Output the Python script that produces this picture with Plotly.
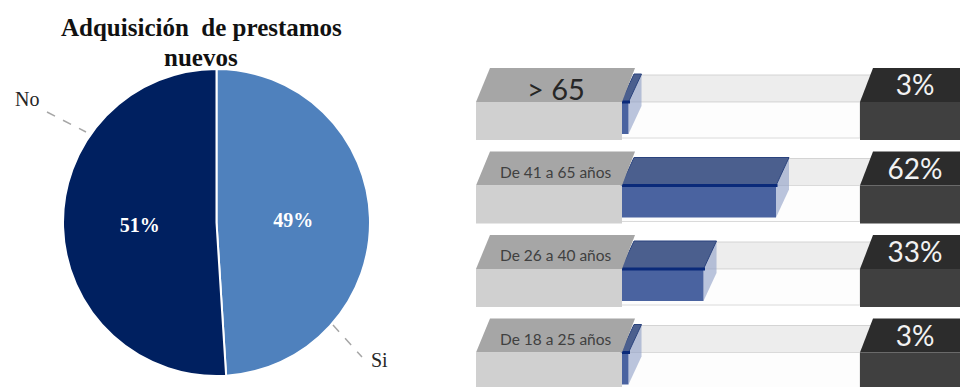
import plotly.graph_objects as go

# ---------------- data ----------------
pie_labels = ["Si", "No"]
pie_values = [49, 51]
pie_colors = ["#4F81BD", "#002060"]
pie_title_1 = "Adquisición\u00a0 de prestamos"
pie_title_2 = "nuevos"

age_groups = ["> 65", "De 41 a 65 años", "De 26 a 40 años", "De 18 a 25 años"]
age_values = [3, 62, 33, 3]

# ---------------- layout helpers ----------------
W, H = 960, 387
def px(x):  # pixel -> paper x
    return x / W
def py(y):  # pixel -> paper y
    return 1 - y / H

ORIGIN = 621.0        # pixel where 0 % starts
SCALE = 2.5           # pixels per percent
def ux(p):            # pixel -> bar axis units
    return (p - ORIGIN) / SCALE

SLANT = 13 / SCALE
ROW0, PITCH = 68.0, 83.5

fig = go.Figure()

def poly(xs, ys, color, line_color=None, lw=0, opacity=1.0):
    fig.add_trace(go.Scatter(
        x=xs + [xs[0]], y=ys + [ys[0]], mode="lines", fill="toself",
        fillcolor=color, opacity=opacity,
        line=dict(color=line_color or color, width=lw),
        hoverinfo="skip", showlegend=False, xaxis="x", yaxis="y"))

# tracks (glass tubes)
for i, _ in enumerate(age_groups):
    T = ROW0 + PITCH * i
    poly([ux(634), ux(873), ux(860), ux(621)], [T + 7, T + 7, T + 34, T + 34],
         "#EDEDED", "#D4D4D4", 1)
    poly([ux(621), ux(860), ux(860), ux(621)], [T + 34, T + 34, T + 70, T + 70],
         "#FDFDFD", "#DADADA", 1)

# value bars
for i, v in enumerate(age_values):
    T = ROW0 + PITCH * i
    # side cap
    poly([v, v, v + SLANT, v + SLANT], [T + 66, T + 34, T + 6, T + 38],
         "#8E9FC6", opacity=0.6)
    # top face
    poly([0, v, v + SLANT, SLANT], [T + 34, T + 34, T + 6, T + 6],
         "#4B5F8E", "#2A437E", 1)
    # front face
    poly([0, v, v, 0], [T + 34, T + 34, T + 66, T + 66], "#4A63A0")
    # edge line
    fig.add_trace(go.Scatter(x=[0, v + 0.6], y=[T + 34, T + 34], mode="lines",
                             line=dict(color="#0A2A7A", width=3),
                             hoverinfo="skip", showlegend=False))

# label blocks and value blocks
for i, _ in enumerate(age_groups):
    T = ROW0 + PITCH * i
    poly([ux(490), ux(635), ux(622), ux(476)], [T, T, T + 34, T + 34], "#A6A6A6")
    poly([ux(476), ux(622), ux(622), ux(476)], [T + 34, T + 34, T + 72, T + 72], "#D0D0D0")
    poly([ux(873), ux(965), ux(965), ux(860)], [T, T, T + 34, T + 34], "#2C2C2C")
    poly([ux(860), ux(965), ux(965), ux(860)], [T + 34, T + 34, T + 72, T + 72], "#404040")

# texts
label_x = ux(556)
for i, g in enumerate(age_groups):
    T = ROW0 + PITCH * i
    big = i == 0
    fig.add_annotation(x=label_x, y=T + 20, xref="x", yref="y", text=g,
                       showarrow=False, xanchor="center", yanchor="middle",
                       font=dict(family="Lato", size=29 if big else 15.5,
                                 color="#262626" if big else "#404040"))
fig.add_trace(go.Scatter(
    x=[ux(915)] * len(age_values),
    y=[ROW0 + PITCH * i + 20 for i in range(len(age_values))],
    mode="text", text=[f"{v}%" for v in age_values],
    textfont=dict(family="Lato", size=28, color="#F2F2F2"),
    hoverinfo="skip", showlegend=False))

# pie
fig.add_trace(go.Pie(
    labels=pie_labels, values=pie_values, sort=False, direction="clockwise",
    rotation=0, marker=dict(colors=pie_colors, line=dict(color="white", width=2)),
    textinfo="percent", textposition="inside", insidetextorientation="horizontal",
    textfont=dict(family="Liberation Serif", size=20, color="white", weight="bold"),
    domain=dict(x=[px(62), px(371)], y=[py(376), py(69)]),
    showlegend=False, hoverinfo="label+percent"))

# pie title
for txt, yy in ((pie_title_1, 27), (pie_title_2, 57)):
    fig.add_annotation(x=px(201), y=py(yy), xref="paper", yref="paper", text=txt,
                       showarrow=False, xanchor="center", yanchor="middle",
                       font=dict(family="Liberation Serif", size=25, color="#111111",
                                 weight="bold"))

# outside pie labels with leader lines
fig.add_annotation(x=px(27), y=py(99), xref="paper", yref="paper", text=pie_labels[1],
                   showarrow=False, xanchor="center", yanchor="middle",
                   font=dict(family="Liberation Serif", size=20, color="#262626"))
fig.add_annotation(x=px(379), y=py(360), xref="paper", yref="paper", text=pie_labels[0],
                   showarrow=False, xanchor="center", yanchor="middle",
                   font=dict(family="Liberation Serif", size=20, color="#262626"))
fig.add_shape(type="line", xref="paper", yref="paper", x0=px(47), y0=py(112), x1=px(86), y1=py(132),
              line=dict(color="#A6A6A6", width=1.5, dash="dash"))
fig.add_shape(type="line", xref="paper", yref="paper", x0=px(333), y0=py(325), x1=px(362), y1=py(357),
              line=dict(color="#A6A6A6", width=1.5, dash="dash"))

fig.update_layout(
    width=W, height=H, margin=dict(l=0, r=0, t=0, b=0),
    paper_bgcolor="white", plot_bgcolor="rgba(0,0,0,0)",
    xaxis=dict(domain=[px(476), 1], range=[ux(476), ux(960)], visible=False, fixedrange=True),
    yaxis=dict(domain=[0, 1], range=[H, 0], visible=False, fixedrange=True),
    showlegend=False,
)

fig.write_html("out.html")
